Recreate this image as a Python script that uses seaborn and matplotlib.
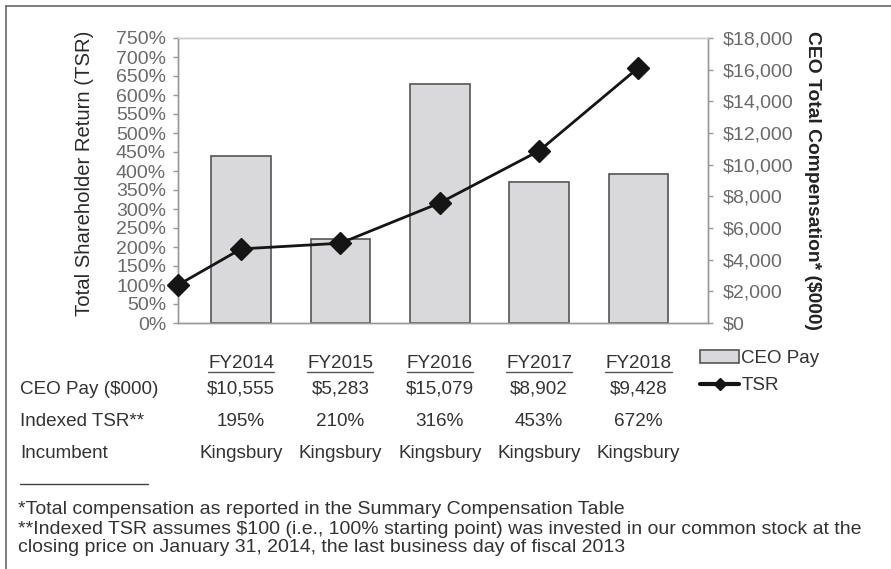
import numpy as np
import pandas as pd
import matplotlib
matplotlib.use("Agg")
import matplotlib.pyplot as plt
import matplotlib.transforms as mtransforms
from matplotlib.lines import Line2D
from matplotlib.patches import Patch
import seaborn as sns

# data
years = ["FY2014", "FY2015", "FY2016", "FY2017", "FY2018"]
ceo_pay = [10555, 5283, 15079, 8902, 9428]
tsr = [195, 210, 316, 453, 672]
tsr_start = 100
incumbent = ["Kingsbury", "Kingsbury", "Kingsbury", "Kingsbury", "Kingsbury"]
pay_labels = ["$10,555", "$5,283", "$15,079", "$8,902", "$9,428"]
tsr_labels = ["195%", "210%", "316%", "453%", "672%"]
footnotes = [
    "*Total compensation as reported in the Summary Compensation Table",
    "**Indexed TSR assumes $100 (i.e., 100% starting point) was invested in our common stock at the",
    "closing price on January 31, 2014, the last business day of fiscal 2013",
]

sns.set_theme(style="white")
plt.rcParams["font.family"] = ["Liberation Sans", "DejaVu Sans"]

W, H = 891, 569
fig = plt.figure(figsize=(W / 100, H / 100), dpi=100)


def fx(px):
    return px / W


def fy(py):
    return 1 - py / H


ax = fig.add_axes([fx(178), fy(323), fx(708 - 178), (323 - 38) / H])
ax_pay = ax.twinx()

df = pd.DataFrame({"year": years, "pay": ceo_pay})
sns.barplot(data=df, x="year", y="pay", ax=ax_pay, width=0.6,
            color="#d9d9dc", edgecolor="#555555", linewidth=1.2, saturation=1)

x_line = [-0.635] + list(range(len(years)))
y_line = [tsr_start] + tsr
ax.plot(x_line, y_line, color="#151515", lw=2, marker="D", markersize=11,
        clip_on=False, zorder=5)

ax.set_zorder(ax_pay.get_zorder() + 1)
ax.patch.set_visible(False)

ax.set_xlim(-0.635, 4.70)
ax.set_ylim(0, 750)
ax.set_yticks(np.arange(0, 751, 50))
ax.set_yticklabels([f"{v}%" for v in range(0, 751, 50)])
ax_pay.set_ylim(0, 18000)
ax_pay.set_yticks(np.arange(0, 18001, 2000))
ax_pay.set_yticklabels([f"${v:,}" for v in range(0, 18001, 2000)])
ax_pay.set_xlabel("")
ax_pay.set_ylabel("")
ax.set_xticks([])
ax_pay.set_xticks([])

for a in (ax, ax_pay):
    for s in a.spines.values():
        s.set_color("#999999")
        s.set_linewidth(1)
    a.spines["top"].set_color("#cccccc")
    a.tick_params(axis="y", length=3.6, width=1, color="#999999",
                  labelsize=14, labelcolor="#6a6a6a")
ax.tick_params(axis="y", left=True, right=False, pad=5)
ax_pay.tick_params(axis="y", left=False, right=True, pad=7)

ax.set_ylabel("Total Shareholder Return (TSR)", fontsize=14.6, color="#2a2a2a")
ax.yaxis.set_label_coords((94 - 178) / 530, 0.526)
ax_pay.set_ylabel("CEO Total Compensation* ($000)", fontsize=13.9,
                  color="#222222", fontweight="bold", rotation=-90,
                  va="center")
ax_pay.yaxis.set_label_coords((813 - 178) / 530, 0.5)

# table under the chart
tcolor = "#333333"
tsize = 13.6
trans = mtransforms.blended_transform_factory(ax.transData, fig.transFigure)
hdr_texts = []
for i, yr in enumerate(years):
    t = fig.text(i, fy(363), yr, transform=trans, ha="center", va="center",
                 fontsize=tsize, color=tcolor)
    hdr_texts.append(t)
    fig.text(i, fy(389), pay_labels[i], transform=trans, ha="center",
             va="center", fontsize=tsize, color=tcolor)
    fig.text(i, fy(421), tsr_labels[i], transform=trans, ha="center",
             va="center", fontsize=tsize, color=tcolor)
    fig.text(i, fy(453), incumbent[i], transform=trans, ha="center",
             va="center", fontsize=tsize, color=tcolor)

for label, yy in [("CEO Pay ($000)", 389), ("Indexed TSR**", 421),
                  ("Incumbent", 453)]:
    fig.text(fx(20), fy(yy), label, ha="left", va="center", fontsize=tsize,
             color=tcolor)

fig.canvas.draw()
renderer = fig.canvas.get_renderer()
for t in hdr_texts:
    bb = t.get_window_extent(renderer)
    fig.add_artist(Line2D([bb.x0 / W, bb.x1 / W], [fy(372), fy(372)],
                          color="#555555", lw=1))

# legend
handles = [Patch(facecolor="#d9d9dc", edgecolor="#555555", lw=1.2),
           Line2D([0], [0], color="#151515", lw=3, marker="D", markersize=6)]
fig.legend(handles, ["CEO Pay", "TSR"], loc="upper left",
           bbox_to_anchor=(fx(683), fy(333)), frameon=False, fontsize=13.5,
           handlelength=2.1, handletextpad=0.1, labelspacing=0.55,
           labelcolor=tcolor)

# footnotes
fig.add_artist(Line2D([fx(20), fx(148)], [fy(484), fy(484)], color="#444444",
                      lw=1))
for txt, yy in zip(footnotes, [510, 529, 548]):
    fig.text(fx(18), fy(yy), txt, ha="left", va="center", fontsize=14,
             color=tcolor)

# outer frame
fig.add_artist(Line2D([fx(6), fx(6)], [fy(6), 0], color="#666666", lw=1.2))
fig.add_artist(Line2D([fx(6), 1], [fy(6), fy(6)], color="#666666", lw=1.2))

fig.savefig("out.png", dpi=100)
